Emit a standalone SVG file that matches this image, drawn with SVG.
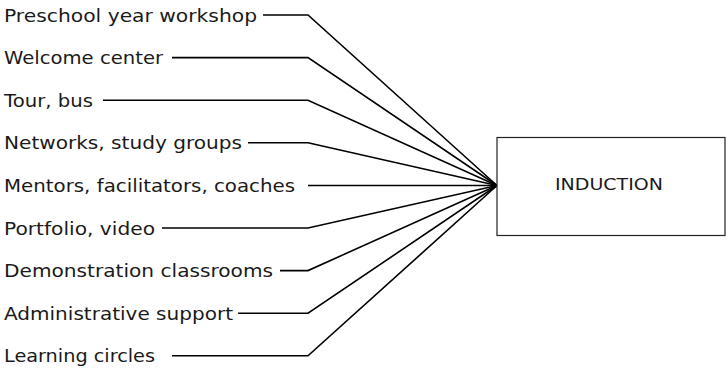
<svg xmlns="http://www.w3.org/2000/svg" width="727" height="369" viewBox="0 0 727 369">
<style>
.lbl{font-family:"DejaVu Sans","Liberation Sans",sans-serif;font-size:18px;fill:#1a1a1a}
.ttl{font-family:"DejaVu Sans","Liberation Sans",sans-serif;font-size:15px;fill:#1a1a1a;text-anchor:middle}
.c{fill:none;stroke:#000;stroke-width:1.6;stroke-linejoin:miter}
.box{fill:#fff;stroke:#222;stroke-width:1.2}
</style>
<rect width="727" height="369" fill="#fff"/>
<g id="connectors">
<polyline class="c" points="263,15 308,15 497,185.5"/>
<polyline class="c" points="172,57.6 308,57.6 497,185.5"/>
<polyline class="c" points="103,100.2 308,100.2 497,185.5"/>
<polyline class="c" points="248,142.8 308,142.8 497,185.5"/>
<polyline class="c" points="308,185.5 497,185.5"/>
<polyline class="c" points="162,228 308,228 497,185.5"/>
<polyline class="c" points="280,270.6 308,270.6 497,185.5"/>
<polyline class="c" points="238,313.2 308,313.2 497,185.5"/>
<polyline class="c" points="172,355.8 308,355.8 497,185.5"/>
</g>
<g id="n1"><text class="lbl" x="4" y="21.5" textLength="253" lengthAdjust="spacingAndGlyphs">Preschool year workshop</text></g>
<g id="n2"><text class="lbl" x="4" y="64.1" textLength="159" lengthAdjust="spacingAndGlyphs">Welcome center</text></g>
<g id="n3"><text class="lbl" x="4" y="106.7" textLength="89" lengthAdjust="spacingAndGlyphs">Tour, bus</text></g>
<g id="n4"><text class="lbl" x="4" y="149.3" textLength="238" lengthAdjust="spacingAndGlyphs">Networks, study groups</text></g>
<g id="n5"><text class="lbl" x="4" y="192" textLength="291" lengthAdjust="spacingAndGlyphs">Mentors, facilitators, coaches</text></g>
<g id="n6"><text class="lbl" x="4" y="234.5" textLength="151" lengthAdjust="spacingAndGlyphs">Portfolio, video</text></g>
<g id="n7"><text class="lbl" x="4" y="277.1" textLength="269" lengthAdjust="spacingAndGlyphs">Demonstration classrooms</text></g>
<g id="n8"><text class="lbl" x="4" y="319.7" textLength="229" lengthAdjust="spacingAndGlyphs">Administrative support</text></g>
<g id="n9"><text class="lbl" x="4" y="362.3" textLength="151" lengthAdjust="spacingAndGlyphs">Learning circles</text></g>
<g id="induction">
<rect class="box" x="497" y="137.5" width="228" height="98"/>
<text class="ttl" x="609" y="190" textLength="108" lengthAdjust="spacingAndGlyphs">INDUCTION</text>
</g>
</svg>
